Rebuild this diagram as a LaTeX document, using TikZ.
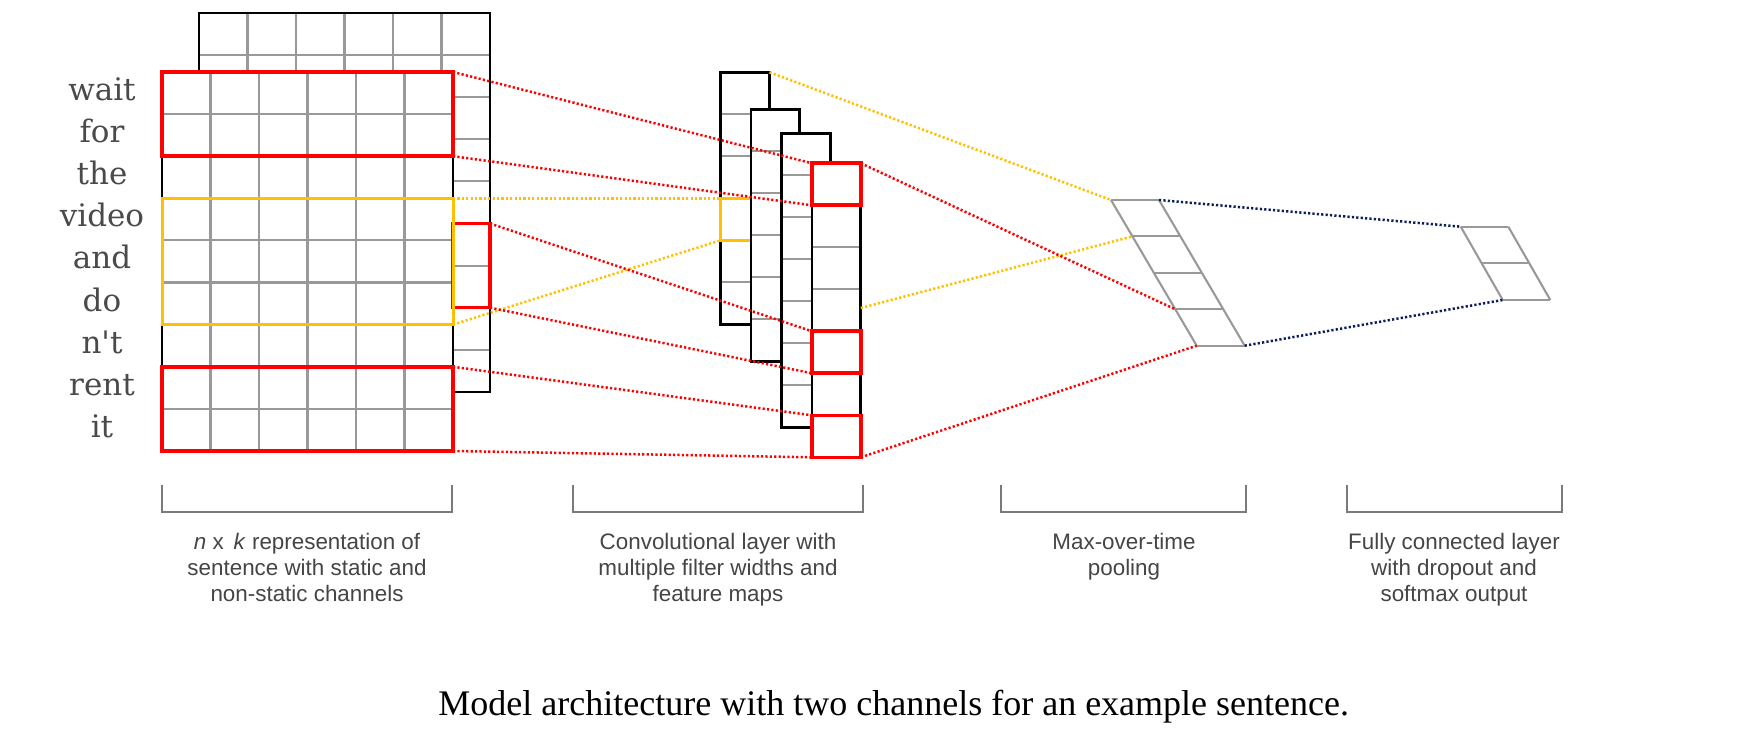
\documentclass[tikz,border=0pt]{standalone}
\usepackage{fontspec}
\setmainfont{Liberation Serif}
\setsansfont{Liberation Sans}
\newfontfamily\wordfont{DejaVu Serif}
\definecolor{myred}{HTML}{FF0000}
\definecolor{myyellow}{HTML}{FFC000}
\definecolor{mynavy}{HTML}{0A1E5A}
\definecolor{gridgray}{HTML}{999999}
\definecolor{brgray}{HTML}{7A7A7A}
\definecolor{lbltext}{HTML}{454545}
\definecolor{wordtext}{HTML}{4A4A4A}
\begin{document}
\begin{tikzpicture}[x=0.5pt,y=-0.5pt,
  gridline/.style={draw=gridgray, line width=1.05pt},
  frameline/.style={draw=black, line width=1.4pt, line join=miter},
  redbox/.style={draw=myred, line width=1.8pt},
  yellowbox/.style={draw=myyellow, line width=1.5pt},
  dotline/.style={line width=1.25pt, dash pattern=on 1.1pt off 1.1pt},
  reddots/.style={dotline, draw=myred},
  yellowdots/.style={dotline, draw=myyellow},
  navydots/.style={dotline, draw=mynavy},
  bracketline/.style={draw=brgray, line width=1.05pt},
  wordlbl/.style={font=\wordfont\fontsize{15.5}{17}\selectfont, text=wordtext, anchor=base, inner sep=0pt},
  lbl/.style={font=\sffamily\fontsize{11.2}{12.9}\selectfont, text=lbltext, align=center, anchor=north, inner sep=0pt},
  captionlbl/.style={font=\fontsize{18}{20}\selectfont, text=black, anchor=base west, inner sep=0pt}]
\useasboundingbox (0,0) rectangle (1744,748);
\fill[white] (0,0) rectangle (1744,748);

% ---------------- back channel grid ----------------
\fill[white] (199,13) rectangle (490,392);
\foreach \k in {1,...,5} \draw[gridline] (199+48.5*\k,13) -- (199+48.5*\k,392);
\foreach \k in {1,...,8} \draw[gridline] (199,13+42.11*\k) -- (490,13+42.11*\k);
\draw[frameline] (199,13) rectangle (490,392);

% ---------------- front channel grid ----------------
\fill[white] (162,72) rectangle (453,451);
\foreach \k in {1,...,5} \draw[gridline] (162+48.5*\k,72) -- (162+48.5*\k,451);
\foreach \k in {1,...,8} \draw[gridline] (162,72+42.11*\k) -- (453,72+42.11*\k);
\draw[frameline] (162,72) rectangle (453,451);

% highlighted regions on the grids
\draw[redbox] (453,223.5) rectangle (490,307.7);
\draw[yellowbox] (162,198.3) rectangle (453,324.6);
\draw[redbox] (162,72) rectangle (453,156.2);
\draw[redbox] (162,366.8) rectangle (453,451);

% words
\foreach \w [count=\i] in {wait,for,the,video,and,do,n't,rent,it}
  \node[wordlbl] (word\i) at (102,{72+42.11*(\i-0.5)+7.5}) {\w};

% ---------------- feature maps ----------------
\newcommand{\featmap}[3]{%
  \fill[white] (#1,#2) rectangle (#1+48.8,#2+42*#3);
  \foreach \k in {1,...,#3} \draw[gridline] (#1,#2+42*\k) -- (#1+48.8,#2+42*\k);
  \draw[frameline] (#1,#2) rectangle (#1+48.8,#2+42*#3);}
\featmap{720.7}{72.3}{6}
\draw[yellowbox] (720.7,198.3) rectangle (769.5,240.3);
\featmap{751}{109.3}{6}
\featmap{781.3}{133.3}{7}
\featmap{812}{163.3}{7}
\draw[redbox] (812,163.3) rectangle (860.8,205.3);
\draw[redbox] (812,331.3) rectangle (860.8,373.3);
\draw[redbox] (812,415.3) rectangle (860.8,457.3);

% ---------------- max-over-time pooling ----------------
\foreach \k in {0,...,4}
  \draw[gridline] ({1111+85.7*\k/4},{200+145.7*\k/4}) -- ++(48,0);
\draw[gridline] (1111,200) -- (1196.7,345.7);
\draw[gridline] (1159,200) -- (1244.7,345.7);

% ---------------- fully connected output ----------------
\foreach \k in {0,1,2}
  \draw[gridline] ({1460.7+42*\k/2},{226.7+73.3*\k/2}) -- ++(47.6,0);
\draw[gridline] (1460.7,226.7) -- (1502.7,300);
\draw[gridline] (1508.3,226.7) -- (1550.3,300);

% ---------------- named end points ----------------
\coordinate (gRedATopR) at (453,72);
\coordinate (gRedABotR) at (453,156.2);
\coordinate (gYelTopR) at (453,198.3);
\coordinate (gYelBotR) at (453,324.6);
\coordinate (bRedTopR) at (490,223.5);
\coordinate (bRedBotR) at (490,307.7);
\coordinate (gRedBTopR) at (453,366.8);
\coordinate (gRedBBotR) at (453,451);
\coordinate (m1YelTopL) at (720.7,198.3);
\coordinate (m1YelBotL) at (720.7,240.3);
\coordinate (m1TopR) at (769.5,72.3);
\coordinate (m4RedATopL) at (812,163.3);
\coordinate (m4RedABotL) at (812,205.3);
\coordinate (m4RedBTopL) at (812,331.3);
\coordinate (m4RedBBotL) at (812,373.3);
\coordinate (m4RedCTopL) at (812,415.3);
\coordinate (m4RedCBotL) at (812,457.3);
\coordinate (m4TopR) at (860.8,163.3);
\coordinate (m4MidR) at (860.8,308);
\coordinate (m4BotR) at (860.8,457.3);
\coordinate (poolTopL) at (1111,200);
\coordinate (poolTopR) at (1159,200);
\coordinate (poolRow1L) at (1132.4,236.4);
\coordinate (poolRow3L) at (1175.3,309.3);
\coordinate (poolBotL) at (1196.7,345.7);
\coordinate (poolBotR) at (1244.7,345.7);
\coordinate (outTopL) at (1460.7,226.7);
\coordinate (outBotL) at (1502.7,300);

% ---------------- connectors ----------------
\draw[reddots] (gRedATopR) -- (m4RedATopL);
\draw[reddots] (gRedABotR) -- (m4RedABotL);
\draw[yellowdots] (gYelTopR) -- (m1YelTopL);
\draw[yellowdots] (gYelBotR) -- (m1YelBotL);
\draw[reddots] (bRedTopR) -- (m4RedBTopL);
\draw[reddots] (bRedBotR) -- (m4RedBBotL);
\draw[reddots] (gRedBTopR) -- (m4RedCTopL);
\draw[reddots] (gRedBBotR) -- (m4RedCBotL);
\draw[yellowdots] (m1TopR) -- (poolTopL);
\draw[yellowdots] (m4MidR) -- (poolRow1L);
\draw[reddots] (m4TopR) -- (poolRow3L);
\draw[reddots] (m4BotR) -- (poolBotL);
\draw[navydots] (poolTopR) -- (outTopL);
\draw[navydots] (poolBotR) -- (outBotL);

% ---------------- brackets and labels ----------------
\draw[bracketline] (161.7,485) -- (161.7,511.7) -- (452.3,511.7) -- (452.3,485);
\draw[bracketline] (573.3,485) -- (573.3,511.7) -- (862.7,511.7) -- (862.7,485);
\draw[bracketline] (1001,485) -- (1001,511.7) -- (1246,511.7) -- (1246,485);
\draw[bracketline] (1346.7,485) -- (1346.7,511.7) -- (1561.7,511.7) -- (1561.7,485);

\node[lbl] (lab1) at (307,533) {\textit{n} x \,\textit{k} representation of\\sentence with static and\\non-static channels};
\node[lbl] (lab2) at (718,533) {Convolutional layer with\\multiple filter widths and\\feature maps};
\node[lbl] (lab3) at (1124,533) {Max-over-time\\pooling};
\node[lbl] (lab4) at (1454,533) {Fully connected layer\\with dropout and\\softmax output};

\node[captionlbl] (caption) at (438,715) {Model architecture with two channels for an example sentence.};
\end{tikzpicture}
\end{document}
